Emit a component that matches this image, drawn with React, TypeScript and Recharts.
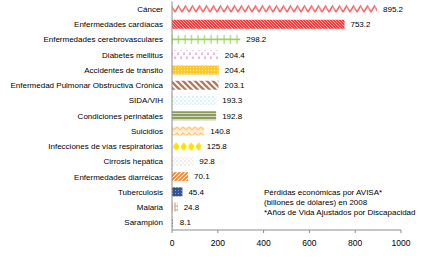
import React from "react";
import { BarChart, Bar, XAxis, YAxis, Cell, LabelList } from "recharts";

const categories = [
  "Cáncer",
  "Enfermedades cardíacas",
  "Enfermedades cerebrovasculares",
  "Diabetes mellitus",
  "Accidentes de tránsito",
  "Enfermedad Pulmonar Obstructiva Crónica",
  "SIDA/VIH",
  "Condiciones perinatales",
  "Suicidios",
  "Infecciones de vías respiratorias",
  "Cirrosis hepática",
  "Enfermedades diarréicas",
  "Tuberculosis",
  "Malaria",
  "Sarampión",
];
const values = [895.2, 753.2, 298.2, 204.4, 204.4, 203.1, 193.3, 192.8, 140.8, 125.8, 92.8, 70.1, 45.4, 24.8, 8.1];
const xTicks = [0, 200, 400, 600, 800, 1000];
const noteLines = [
  "Pérdidas económicas por AVISA*",
  "(billones de dólares) en 2008",
  "*Años de Vida Ajustados por Discapacidad",
];

const data = categories.map((name, i) => ({ name, value: values[i] }));

const FONT = "'Liberation Sans', Arial, sans-serif";

function Patterns() {
  return (
    <defs>
      <pattern id="p0" x="0" y="3" width="7" height="15.23" patternUnits="userSpaceOnUse">
        <rect width="7" height="15.23" fill="#fff" />
        <polyline points="0,9 3.5,3 7,9" fill="none" stroke="#ff4a4a" strokeWidth="1.4" />
        <line x1="3.5" y1="3" x2="5.5" y2="6.5" stroke="#ff9a9a" strokeWidth="1" />
      </pattern>
      <pattern id="p1" width="3" height="3" patternUnits="userSpaceOnUse">
        <rect width="3" height="3" fill="#ff3a3a" />
        <line x1="0" y1="0" x2="3" y2="3" stroke="#ffd0d0" strokeWidth="0.7" />
      </pattern>
      <pattern id="p2" x="0" y="3" width="6.5" height="15.23" patternUnits="userSpaceOnUse">
        <rect width="6.5" height="15.23" fill="#fff" />
        <line x1="0" y1="6" x2="6.5" y2="6" stroke="#92d050" strokeWidth="1.6" />
        <line x1="3" y1="1" x2="3" y2="11" stroke="#92d050" strokeWidth="1" />
      </pattern>
      <pattern id="p3" width="6" height="8" patternUnits="userSpaceOnUse">
        <rect width="6" height="8" fill="#fff" />
        <line x1="1" y1="0.5" x2="1" y2="3" stroke="#e070c0" strokeWidth="1" />
        <line x1="4" y1="4.5" x2="4" y2="7" stroke="#e070c0" strokeWidth="1" />
      </pattern>
      <pattern id="p4" width="3" height="3" patternUnits="userSpaceOnUse">
        <rect width="3" height="3" fill="#ffc626" />
        <circle cx="1.5" cy="1.5" r="0.7" fill="#ffeb99" />
      </pattern>
      <pattern id="p5" width="6" height="6" patternUnits="userSpaceOnUse">
        <rect width="6" height="6" fill="#fff" />
        <path d="M0,0 L6,6 M-3,3 L3,9 M3,-3 L9,3" stroke="#b07a5e" strokeWidth="2.3" />
      </pattern>
      <pattern id="p6" width="4" height="4" patternUnits="userSpaceOnUse">
        <rect width="4" height="4" fill="#fff" />
        <rect x="0.5" y="0.5" width="1" height="1" fill="#60c4f0" />
        <rect x="2.5" y="2.5" width="1" height="1" fill="#9ad8f4" />
      </pattern>
      <pattern id="p7" width="4" height="3" patternUnits="userSpaceOnUse">
        <rect width="4" height="3" fill="#8c9c60" />
        <rect y="2" width="4" height="1" fill="#d4dcbc" />
      </pattern>
      <pattern id="p8" width="6" height="6" patternUnits="userSpaceOnUse">
        <rect width="6" height="6" fill="#fff3e0" />
        <polyline points="0,4 3,1 6,4" fill="none" stroke="#fcc87e" strokeWidth="1.3" />
        <polyline points="0,6.5 3,3.5 6,6.5" fill="none" stroke="#fcd8a4" strokeWidth="0.8" />
      </pattern>
      <pattern id="p9" x="0" y="2" width="7.5" height="15.23" patternUnits="userSpaceOnUse">
        <rect width="7.5" height="15.23" fill="#fff" />
        <polygon points="3.75,3 7,7.5 3.75,12 0.5,7.5" fill="#ffe000" />
        <circle cx="3.75" cy="7.5" r="2.6" fill="#ffe000" />
      </pattern>
      <pattern id="p10" width="4" height="4" patternUnits="userSpaceOnUse">
        <rect width="4" height="4" fill="#fff" />
        <rect x="0.5" y="0.5" width="1" height="1" fill="#b8b8b8" />
        <rect x="2.5" y="2.5" width="1" height="1" fill="#cfcfcf" />
      </pattern>
      <pattern id="p11" width="4" height="4" patternUnits="userSpaceOnUse">
        <rect width="4" height="4" fill="#fff" />
        <path d="M-1,1 L1,-1 M0,4 L4,0 M3,5 L5,3" stroke="#f08224" strokeWidth="1.7" />
      </pattern>
      <pattern id="p12" width="3" height="3" patternUnits="userSpaceOnUse">
        <rect width="3" height="3" fill="#34538f" />
        <rect x="1" y="1" width="1" height="1" fill="#8ea4cc" />
      </pattern>
      <pattern id="p13" width="6" height="4" patternUnits="userSpaceOnUse">
        <rect width="6" height="4" fill="#fff" />
        <line x1="1" y1="0" x2="1" y2="4" stroke="#b8a070" strokeWidth="1" />
        <line x1="4" y1="0" x2="4" y2="4" stroke="#b8a070" strokeWidth="1" />
        <line x1="1" y1="2" x2="4" y2="2" stroke="#b8a070" strokeWidth="1" />
      </pattern>
      <pattern id="p14" width="3" height="3" patternUnits="userSpaceOnUse">
        <rect width="3" height="3" fill="#fff" />
        <rect x="0.5" y="0.5" width="1.2" height="1.3" fill="#222" />
      </pattern>
    </defs>
  );
}

function CategoryTick(props: any) {
  const { x, y, payload } = props;
  return (
    <text
      x={x - 7}
      y={y}
      dy="0.355em"
      textAnchor="end"
      fontSize={8}
      fill="#000"
      fontFamily={FONT}
    >
      {payload.value}
    </text>
  );
}

export default function App() {
  return (
    <div style={{ position: "absolute", left: 0, top: 0, width: 421, height: 259, background: "#fff" }}>
      <BarChart
        width={421}
        height={259}
        data={data}
        layout="vertical"
        margin={{ top: 1.5, right: 20, bottom: 0, left: 0 }}
        barCategoryGap="20%"
      >
        <Patterns />
        <XAxis
          type="number"
          domain={[0, 1000]}
          ticks={xTicks}
          height={29}
          tickSize={3}
          tickMargin={7}
          axisLine={{ stroke: "#8c8c8c" }}
          tickLine={{ stroke: "#8c8c8c" }}
          tick={{ fontSize: 8.5, fill: "#000", fontFamily: FONT }}
          interval={0}
        />
        <YAxis
          type="category"
          dataKey="name"
          width={172}
          tickSize={0}
          interval={0}
          axisLine={{ stroke: "#8c8c8c" }}
          tickLine={false}
          tick={<CategoryTick />}
        />
        <Bar dataKey="value" isAnimationActive={false}>
          {data.map((d, i) => (
            <Cell key={d.name} fill={`url(#p${i})`} />
          ))}
          <LabelList
            dataKey="value"
            position="right"
            offset={6}
            style={{ fontSize: 8, fill: "#000", fontFamily: FONT }}
            formatter={(v: number) => v.toFixed(1)}
          />
        </Bar>
      </BarChart>
      <div
        style={{
          position: "absolute",
          left: 264,
          top: 188,
          fontFamily: FONT,
          fontSize: 8,
          lineHeight: "10px",
          color: "#000",
          whiteSpace: "nowrap",
        }}
      >
        {noteLines.map((l) => (
          <div key={l}>{l}</div>
        ))}
      </div>
    </div>
  );
}
